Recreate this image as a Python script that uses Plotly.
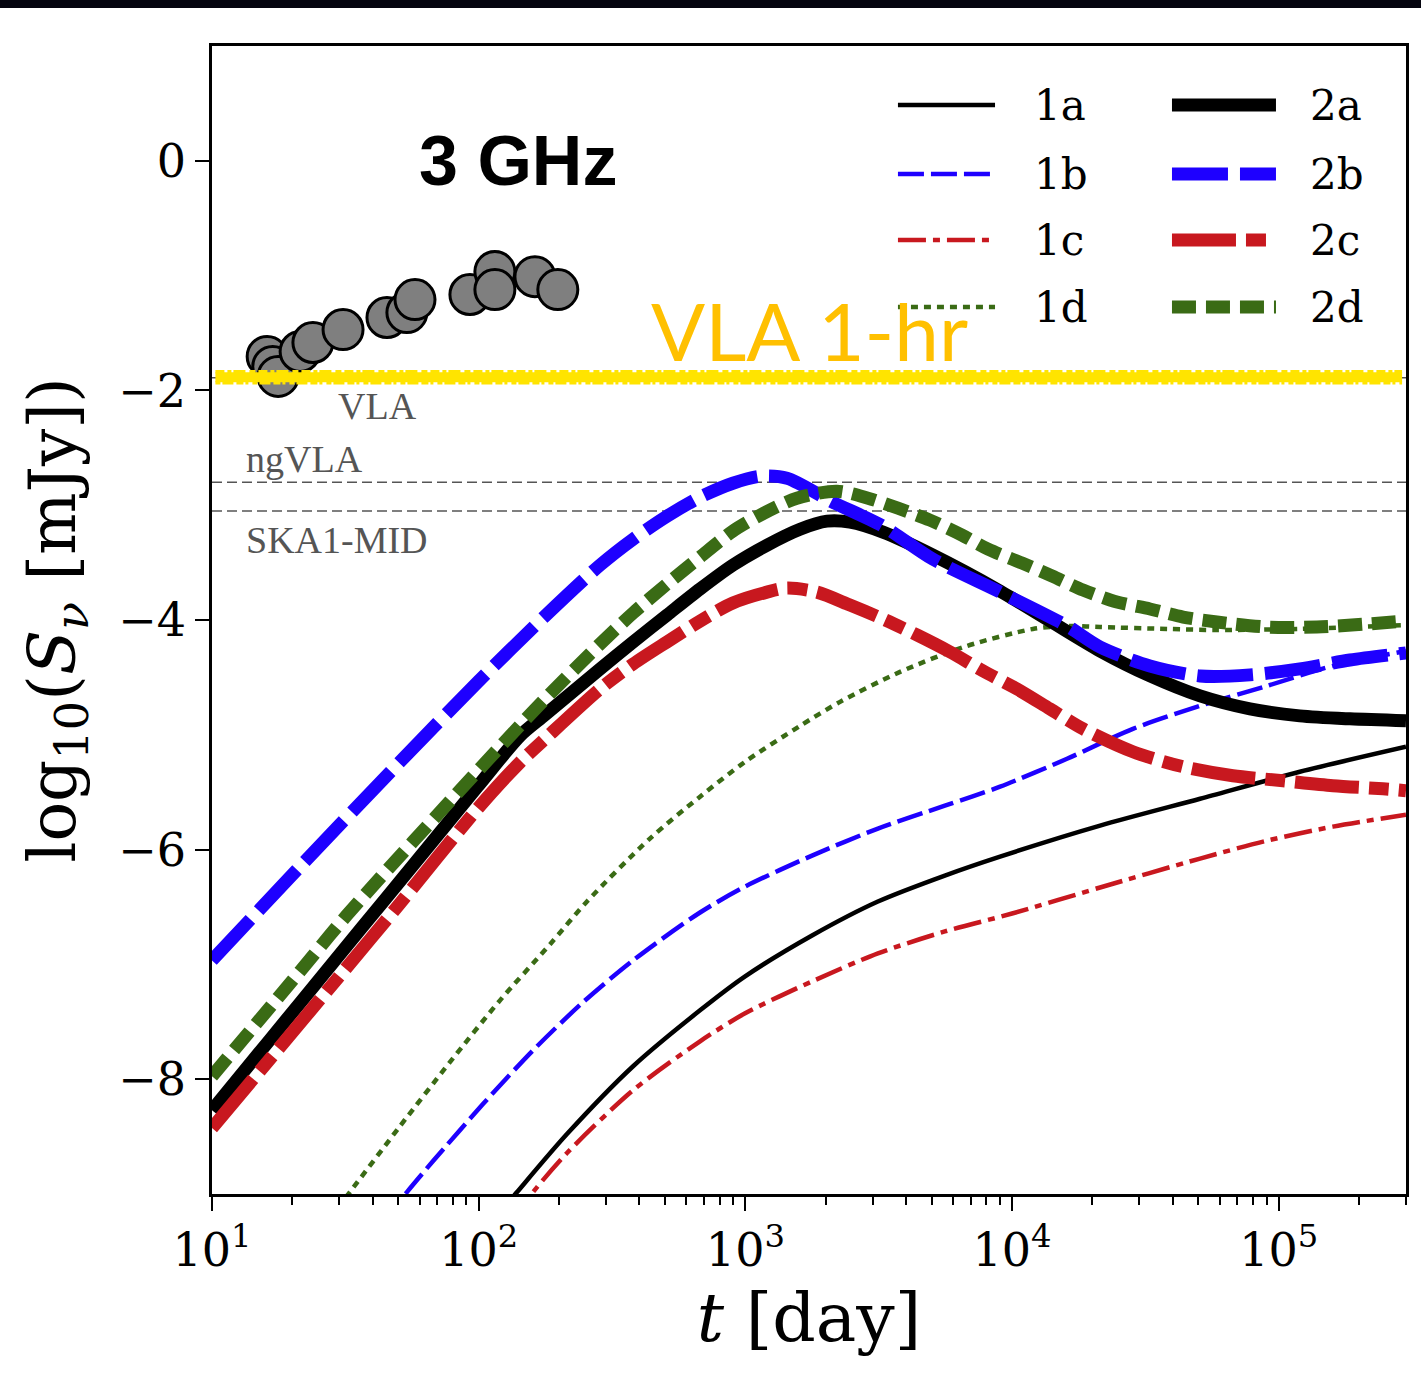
import numpy as np
import plotly.graph_objects as go

# ---- model light curves at 3 GHz: log10(t/day) and log10(S_nu/mJy) ----
logt_1a = [2.069, 2.144, 2.331, 2.579, 2.83, 2.999, 3.25, 3.497, 3.748, 3.955, 4.33, 4.705, 5.079, 5.477]
s_1a = [-9.191, -8.983, -8.478, -7.887, -7.400, -7.104, -6.748, -6.452, -6.226, -6.061, -5.791, -5.557, -5.322, -5.104]

logt_1b = [1.649, 1.731, 1.829, 2.016, 2.204, 2.391, 2.579, 2.83, 2.999, 3.25, 3.497, 3.748, 3.955, 4.206, 4.453, 4.705, 4.956, 5.203, 5.477]
s_1b = [-9.226, -8.983, -8.713, -8.217, -7.748, -7.330, -6.965, -6.548, -6.322, -6.052, -5.817, -5.617, -5.452, -5.209, -4.948, -4.748, -4.574, -4.400, -4.270]

logt_1c = [2.129, 2.204, 2.331, 2.579, 2.83, 2.999, 3.25, 3.497, 3.748, 4.0, 4.33, 4.705, 4.956, 5.203, 5.477]
s_1c = [-9.226, -8.983, -8.643, -8.096, -7.670, -7.426, -7.148, -6.904, -6.713, -6.557, -6.330, -6.078, -5.922, -5.800, -5.696]

logt_1d = [1.442, 1.517, 1.705, 1.892, 2.08, 2.267, 2.406, 2.642, 2.83, 2.999, 3.205, 3.355, 3.58, 3.831, 4.078, 4.206, 4.33, 4.581, 4.768, 5.079, 5.477]
s_1d = [-9.209, -8.983, -8.409, -7.852, -7.313, -6.826, -6.452, -5.904, -5.539, -5.235, -4.922, -4.713, -4.452, -4.226, -4.078, -4.052, -4.061, -4.078, -4.087, -4.078, -4.043]

logt_2a = [1.0, 1.206, 1.454, 1.656, 1.997, 2.155, 2.249, 2.455, 2.579, 2.706, 2.83, 2.953, 3.081, 3.205, 3.306, 3.392, 3.516, 3.703, 3.955, 4.142, 4.33, 4.517, 4.705, 4.892, 5.079, 5.267, 5.477]
s_2a = [-8.270, -7.687, -6.985, -6.413, -5.448, -5.009, -4.826, -4.426, -4.191, -3.957, -3.730, -3.522, -3.348, -3.209, -3.139, -3.148, -3.235, -3.435, -3.748, -4.009, -4.270, -4.487, -4.661, -4.774, -4.835, -4.861, -4.878]

logt_2b = [1.0, 1.33, 1.705, 1.997, 2.249, 2.455, 2.579, 2.706, 2.83, 2.953, 3.055, 3.156, 3.328, 3.516, 3.703, 3.955, 4.206, 4.33, 4.517, 4.705, 4.892, 5.079, 5.267, 5.477]
s_2b = [-6.965, -6.148, -5.235, -4.539, -3.965, -3.522, -3.296, -3.096, -2.930, -2.809, -2.748, -2.765, -2.974, -3.183, -3.470, -3.757, -4.052, -4.235, -4.400, -4.487, -4.478, -4.426, -4.348, -4.287]

logt_2c = [1.0, 1.229, 1.48, 1.705, 1.997, 2.155, 2.249, 2.455, 2.579, 2.706, 2.83, 2.953, 3.081, 3.156, 3.268, 3.392, 3.516, 3.643, 3.767, 3.891, 4.018, 4.142, 4.266, 4.453, 4.641, 4.828, 5.016, 5.203, 5.391, 5.477]
s_2c = [-8.426, -7.791, -7.096, -6.468, -5.640, -5.240, -5.035, -4.600, -4.383, -4.191, -4.009, -3.852, -3.757, -3.722, -3.757, -3.870, -3.991, -4.130, -4.278, -4.443, -4.600, -4.774, -4.948, -5.148, -5.278, -5.357, -5.400, -5.443, -5.470, -5.487]

logt_2d = [1.0, 1.33, 1.506, 1.997, 2.249, 2.455, 2.579, 2.706, 2.83, 2.953, 3.055, 3.193, 3.343, 3.46, 3.572, 3.692, 3.812, 3.91, 4.037, 4.15, 4.266, 4.393, 4.517, 4.641, 4.768, 4.956, 5.143, 5.331, 5.477]
s_2d = [-7.974, -7.061, -6.570, -5.313, -4.687, -4.209, -3.939, -3.687, -3.452, -3.226, -3.087, -2.939, -2.878, -2.939, -3.026, -3.130, -3.261, -3.383, -3.504, -3.617, -3.739, -3.843, -3.904, -3.974, -4.017, -4.061, -4.061, -4.035, -4.009]

# ---- observed 3 GHz detections ----
t_obs = [16.1, 16.9, 17.7, 21.4, 23.9, 31.0, 45.3, 53.8, 57.7, 92.7, 115.0, 115.0, 162.5, 198.0]
s_obs = [-1.704, -1.791, -1.878, -1.661, -1.583, -1.470, -1.365, -1.322, -1.209, -1.165, -0.965, -1.122, -1.009, -1.122]

# ---- sensitivity limits (log10 mJy) ----
limit_names = ["VLA", "ngVLA", "SKA1-MID"]
limit_levels = [-1.89, -2.80, -3.05]
vla_1hr_level = -1.885

t_range = [10.0, 3.0e5]
model_names = ["1a", "1b", "1c", "1d", "2a", "2b", "2c", "2d"]

BLUE = "#1E00FF"
RED = "#C8181F"
GREEN = "#3A6B15"
styles = {
    "1a": dict(color="black", width=4.5, dash="solid"),
    "1b": dict(color=BLUE, width=4.5, dash="26px,7px"),
    "1c": dict(color=RED, width=4.5, dash="28px,7px,7px,7px"),
    "1d": dict(color=GREEN, width=4.5, dash="7px,6px"),
    "2a": dict(color="black", width=13, dash="solid"),
    "2b": dict(color=BLUE, width=13, dash="56px,12px"),
    "2c": dict(color=RED, width=13, dash="64px,10px,20px,10px"),
    "2d": dict(color=GREEN, width=13, dash="24px,10px"),
}
curves = {
    "1a": (logt_1a, s_1a), "1b": (logt_1b, s_1b), "1c": (logt_1c, s_1c), "1d": (logt_1d, s_1d),
    "2a": (logt_2a, s_2a), "2b": (logt_2b, s_2b), "2c": (logt_2c, s_2c), "2d": (logt_2d, s_2d),
}

fig = go.Figure()

# telescope limits (thin grey dashed)
for lvl in limit_levels:
    fig.add_trace(go.Scatter(x=t_range, y=[lvl, lvl], mode="lines",
                             line=dict(color="#555555", width=1.6, dash="10px,5px"),
                             hoverinfo="skip", showlegend=False))

# model curves
for name in model_names:
    lt, s = curves[name]
    fig.add_trace(go.Scatter(x=10 ** np.array(lt), y=s, mode="lines", name=name,
                             line=dict(shape="spline", smoothing=0.8, **styles[name]),
                             showlegend=False))

# observations
fig.add_trace(go.Scatter(x=t_obs, y=s_obs, mode="markers",
                         marker=dict(size=40, color="#7F7F7F", line=dict(color="black", width=3)),
                         showlegend=False))

# highlighter stroke marking the VLA 1-hr sensitivity (solid core + ragged edges)
HL = "rgb(255,228,0)"
hl_x = [10.3, 2.9e5]
fig.add_trace(go.Scatter(x=hl_x, y=[vla_1hr_level] * 2, mode="lines",
                         line=dict(color=HL, width=10), hoverinfo="skip", showlegend=False))
for off, pattern in [(0.048, "9px,3px,4px,2px,12px,4px,6px,3px"),
                     (-0.048, "5px,2px,11px,3px,7px,2px,3px,4px")]:
    fig.add_trace(go.Scatter(x=hl_x, y=[vla_1hr_level + off] * 2, mode="lines",
                             line=dict(color=HL, width=3.5, dash=pattern),
                             hoverinfo="skip", showlegend=False))

# ---- hand-built two-column legend (paper coordinates) ----
legend_rows_y = [0.9486, 0.8885, 0.8310, 0.7726]
col_line_x = [(0.5745, 0.6558), (0.8040, 0.8911)]
col_text_x = [0.6868, 0.9179]
shapes = []
annotations = []
for ci, prefix in enumerate(["1", "2"]):
    for ri, suffix in enumerate(["a", "b", "c", "d"]):
        name = prefix + suffix
        st = styles[name]
        y = legend_rows_y[ri]
        shapes.append(dict(type="line", xref="paper", yref="paper",
                           x0=col_line_x[ci][0], x1=col_line_x[ci][1], y0=y, y1=y,
                           line=dict(color=st["color"], width=st["width"], dash=st["dash"])))
        annotations.append(dict(xref="paper", yref="paper", x=col_text_x[ci], y=y,
                                text=name, showarrow=False, xanchor="left", yanchor="middle",
                                font=dict(family="DejaVu Serif", size=42, color="black")))

# dark band along the top of the page
shapes.append(dict(type="rect", xref="paper", yref="paper", x0=-0.2, x1=1.02,
                   y0=1.0331, y1=1.06, fillcolor="#05050F", line=dict(width=0), layer="above"))

# limit labels
label_pos = [(0.1039, -2.14), (0.0268, -2.60), (0.0268, -3.30)]
for txt, (xp, yv) in zip(limit_names, label_pos):
    annotations.append(dict(xref="paper", yref="y", x=xp, y=yv, text=txt, showarrow=False,
                            xanchor="left", yanchor="middle",
                            font=dict(family="Liberation Serif", size=38, color="#555555")))

annotations.append(dict(xref="paper", yref="y", x=0.2563, y=0.0, text="<b>3 GHz</b>",
                        showarrow=False, xanchor="center", yanchor="middle",
                        font=dict(family="Liberation Sans", size=70, color="black")))
annotations.append(dict(xref="paper", yref="y", x=0.5008, y=-1.47, text="VLA 1-hr",
                        showarrow=False, xanchor="center", yanchor="middle",
                        font=dict(family="Lato", size=80, color="#FFC000")))

fig.update_layout(
    width=1421, height=1376,
    margin=dict(l=212, r=15, t=46, b=182),
    paper_bgcolor="white", plot_bgcolor="white",
    shapes=shapes, annotations=annotations,
    showlegend=False,
)
fig.update_xaxes(
    type="log", range=[1.0, np.log10(3.0e5)],
    showgrid=False, zeroline=False,
    showline=True, linecolor="black", linewidth=2.5, mirror=True,
    ticks="outside", ticklen=14, tickwidth=2, tickcolor="black",
    tickvals=[10, 100, 1000, 1e4, 1e5],
    ticktext=["10<sup>1</sup>", "10<sup>2</sup>", "10<sup>3</sup>", "10<sup>4</sup>", "10<sup>5</sup>"],
    tickfont=dict(family="DejaVu Serif", size=46, color="black"),
    minor=dict(ticks="outside", ticklen=8, tickwidth=1.5, tickcolor="black", dtick="D1", showgrid=False),
    title=dict(text="<i>t</i> [day]", font=dict(family="DejaVu Serif", size=68, color="black"), standoff=18),
)
fig.update_yaxes(
    range=[-9, 1],
    showgrid=False, zeroline=False,
    showline=True, linecolor="black", linewidth=2.5, mirror=True,
    ticks="outside", ticklen=14, tickwidth=2, tickcolor="black",
    tickvals=[0, -2, -4, -6, -8], ticktext=["0", "−2", "−4", "−6", "−8"],
    tickfont=dict(family="DejaVu Serif", size=46, color="black"),
    title=dict(text="log<sub>10</sub>(<i>S<sub>ν</sub></i> [mJy])",
               font=dict(family="DejaVu Serif", size=66, color="black"), standoff=22),
)

fig.write_html("out.html")
